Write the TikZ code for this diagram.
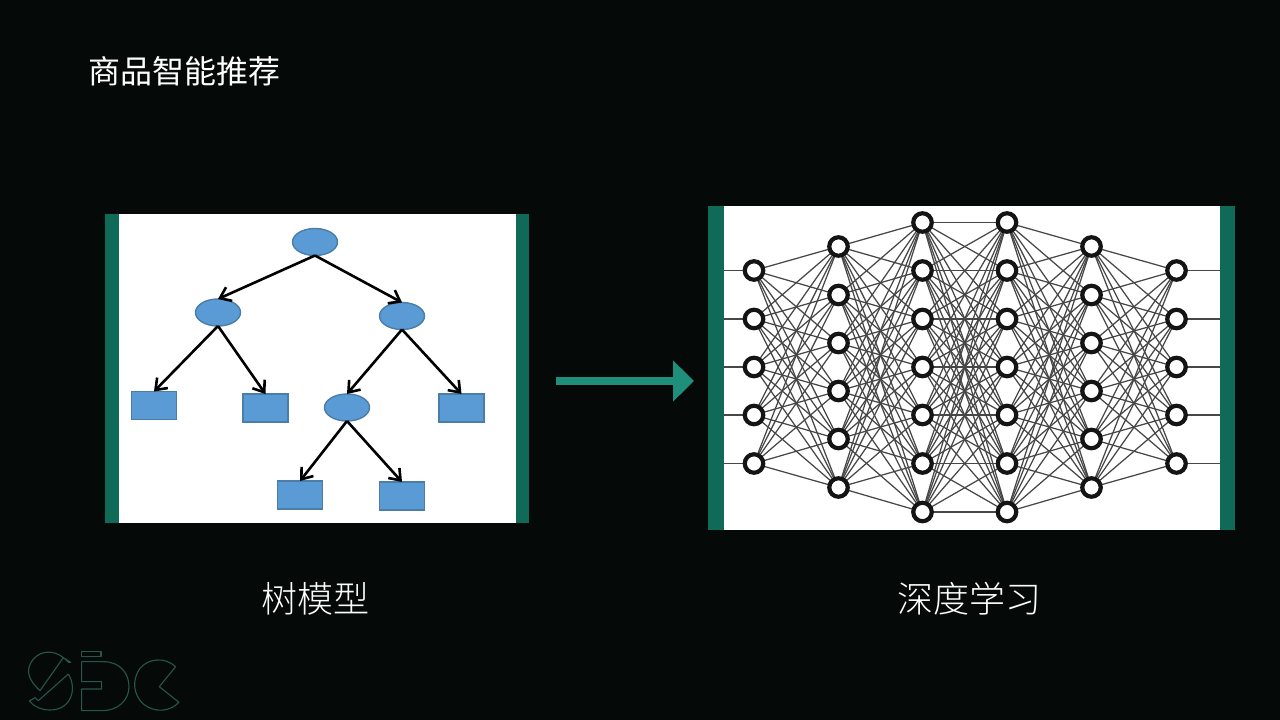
\documentclass[tikz,border=0pt]{standalone}
\usepackage{fontspec}
\newfontfamily\cjk{Noto Sans CJK SC}
\newfontfamily\cjklight{Noto Sans CJK SC Light}
\usetikzlibrary{arrows.meta,shapes.geometric}
\pgfdeclarelayer{bglayer}\pgfdeclarelayer{edgelayer}
\pgfsetlayers{bglayer,edgelayer,main}
\definecolor{bgc}{HTML}{050A09}
\definecolor{barc}{HTML}{0F6A57}
\definecolor{arrc}{HTML}{1F8E7B}
\definecolor{blu}{HTML}{5B9BD5}
\definecolor{bluline}{HTML}{4A7DA8}
\definecolor{logoc}{HTML}{28564A}
\tikzset{
 x=1pt,y=-1pt,
 panel/.style={fill=white,draw=none,inner sep=0,outer sep=0},
 bar/.style={fill=barc,draw=none,inner sep=0,outer sep=0},
 leafnode/.style={rectangle,fill=blu,draw=bluline,line width=1.4pt,minimum width=45pt,minimum height=28pt,inner sep=0,outer sep=0},
 treenode/.style={ellipse,fill=blu,draw=bluline,line width=1.4pt,minimum width=45pt,minimum height=27pt,inner sep=0,outer sep=0},
 treeedge/.style={draw=black,line width=2.6pt,-{Straight Barb[length=10pt,width=15pt,line width=2.6pt]}},
 neuron/.style={circle,fill=white,draw=black!92,line width=4.2pt,minimum size=18.5pt,inner sep=0,outer sep=0},
 nnedge/.style={draw=black!72,line width=1.25pt},
 logoline/.style={draw=logoc,line width=1.1pt,line join=round},
 bigarrow/.style={draw=arrc,line width=8pt,-{Triangle[length=21pt,width=40pt]}},
 title/.style={text=white,inner sep=0,font=\cjk\fontsize{32}{32}\selectfont},
 caption/.style={text=white,inner sep=0,font=\cjklight\fontsize{36}{36}\selectfont},
}
\begin{document}
\begin{tikzpicture}
\useasboundingbox (0,0) rectangle (1280,720);
\begin{pgfonlayer}{bglayer}
\fill[bgc] (0,0) rectangle (1280,720);
\node[panel,minimum width=424pt,minimum height=309pt] (leftpanel) at (317,368.5) {};
\node[bar,minimum width=14pt,minimum height=309pt] (leftbarA) at (112,368.5) {};
\node[bar,minimum width=13pt,minimum height=309pt] (leftbarB) at (522.5,368.5) {};
\node[panel,minimum width=527pt,minimum height=324pt] (rightpanel) at (971.5,368) {};
\node[bar,minimum width=16pt,minimum height=324pt] (rightbarA) at (716,368) {};
\node[bar,minimum width=15pt,minimum height=324pt] (rightbarB) at (1227.5,368) {};
\end{pgfonlayer}

\node[title,anchor=west] (ttl) at (88,71) {商品智能推荐};
\node[caption] (capL) at (315,599) {树模型};
\node[caption] (capR) at (969,599) {深度学习};

% tree
\node[treenode] (root) at (315,242) {};
\node[treenode] (ta) at (218,312.5) {};
\node[treenode] (tb) at (402,316) {};
\node[treenode] (tc) at (347,407.5) {};
\node[leafnode] (l1) at (154,405.5) {};
\node[leafnode] (l2) at (265.5,408) {};
\node[leafnode] (l3) at (461.5,408) {};
\node[leafnode] (l4) at (300,495) {};
\node[leafnode] (l5) at (402,496) {};
\draw[treeedge] (root.south) -- (ta.north);
\draw[treeedge] (root.south) -- (tb.north);
\draw[treeedge] (ta.south) -- (l1.north);
\draw[treeedge] (ta.south) -- (l2.north);
\draw[treeedge] (tb.south) -- (tc.north);
\draw[treeedge] (tb.south) -- (l3.north);
\draw[treeedge] (tc.south) -- (l4.north);
\draw[treeedge] (tc.south) -- (l5.north);

% arrow
\coordinate (arrS) at (556,381);
\coordinate (arrE) at (694,381);
\draw[bigarrow] (arrS) -- (arrE);

% network nodes
\foreach \i/\yy in {1/270.5,2/319,3/367,4/415,5/463.5}{
  \node[neuron] (a\i) at (754,\yy) {};
  \node[neuron] (f\i) at (1176.5,\yy) {};
  \coordinate (inp\i) at (724,\yy);
  \coordinate (out\i) at (1220,\yy);
}
\foreach \i/\yy in {1/246.5,2/295,3/343,4/391,5/439,6/487.5}{
  \node[neuron] (b\i) at (838.5,\yy) {};
  \node[neuron] (e\i) at (1091.5,\yy) {};
}
\foreach \i/\yy in {1/222.5,2/270.5,3/319,4/367,5/415,6/463.5,7/512}{
  \node[neuron] (c\i) at (922.5,\yy) {};
  \node[neuron] (d\i) at (1007,\yy) {};
}
\begin{pgfonlayer}{edgelayer}
\foreach \i in {1,...,5}{
  \draw[nnedge] (inp\i) -- (a\i);
  \draw[nnedge] (f\i) -- (out\i);
  \foreach \j in {1,...,6}{
    \draw[nnedge] (a\i) -- (b\j);
    \draw[nnedge] (e\j) -- (f\i);
  }
}
\foreach \i in {1,...,6}{
  \foreach \j in {1,...,7}{
    \draw[nnedge] (b\i) -- (c\j);
    \draw[nnedge] (d\j) -- (e\i);
  }
}
\foreach \i in {1,...,7}{
  \foreach \j in {1,...,7}{
    \draw[nnedge] (c\i) -- (d\j);
  }
}
\end{pgfonlayer}

% logo
\begin{scope}[shift={(0,630)},x=0.3333pt,y=-0.3333pt]
\draw[logoline] (205,97) .. controls (175,60) and (125,55) .. (98,90)
  .. controls (75,120) and (85,150) .. (120,182) -- (190,83) -- (212,97) -- cycle;
\draw[logoline] (205,132) .. controls (232,175) and (215,240) .. (150,240)
  .. controls (125,240) and (105,232) .. (88,213) -- (105,203) -- (115,212) -- (205,132);
\draw[logoline] (245,65) rectangle (303,80);
\draw[logoline] (245,95) -- (310,95) .. controls (360,95) and (387,130) .. (387,170)
  .. controls (387,210) and (355,242) .. (305,242) -- (245,242) -- (245,177) -- (305,177) -- (305,155) -- (245,155) -- cycle;
\draw[logoline] (527,110) .. controls (495,80) and (445,85) .. (420,115)
  .. controls (395,150) and (400,195) .. (430,222)
  .. controls (465,250) and (510,245) .. (537,217) -- (478,170) -- cycle;
\end{scope}
\end{tikzpicture}
\end{document}
